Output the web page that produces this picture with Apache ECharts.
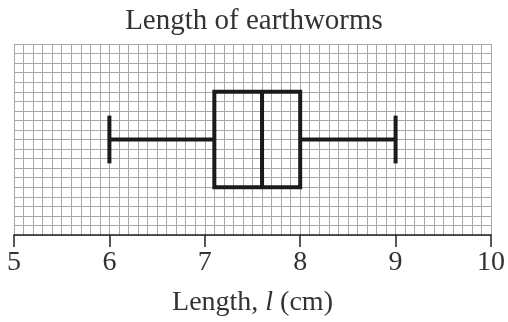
<!DOCTYPE html>
<html>
<head>
<meta charset="utf-8">
<script src="https://cdn.jsdelivr.net/npm/echarts@6/dist/echarts.min.js"></script>
<style>
  html, body { margin: 0; padding: 0; background: #fff; }
  #chart { width: 508px; height: 322px; }
</style>
</head>
<body>
<div id="chart"></div>
<script>
// five-number summary: min, Q1, median, Q3, max
const summaryLabels = ['min', 'Q1', 'median', 'Q3', 'max']
const summaryValues = [6, 7.1, 7.6, 8, 9]
const xTicks = [5, 6, 7, 8, 9, 10]

const chart = echarts.init(document.getElementById('chart'))
const serif = 'Liberation Serif'
const gridColor = '#a8a8a8'
const textColor = '#333'

function renderBox(params, api) {
  const lo = api.value(0), q1 = api.value(1), med = api.value(2), q3 = api.value(3), hi = api.value(4)
  const mid = 10, half = 5, cap = 2.5
  const p = (x, y) => api.coord([x, y])
  const style = { stroke: '#1a1a1a', lineWidth: 4, fill: null }
  const line = (a, b) => ({ type: 'line', shape: { x1: a[0], y1: a[1], x2: b[0], y2: b[1] }, style })
  const tl = p(q1, mid + half), br = p(q3, mid - half)
  return {
    type: 'group',
    children: [
      line(p(lo, mid), p(q1, mid)),
      line(p(q3, mid), p(hi, mid)),
      line(p(lo, mid - cap), p(lo, mid + cap)),
      line(p(hi, mid - cap), p(hi, mid + cap)),
      { type: 'rect', shape: { x: tl[0], y: tl[1], width: br[0] - tl[0], height: br[1] - tl[1] }, style },
      line(p(med, mid - half), p(med, mid + half)),
    ],
  }
}

chart.setOption({
  animation: false,
  title: {
    text: 'Length of earthworms',
    left: 'center',
    top: 2,
    textStyle: { fontFamily: serif, fontSize: 29, fontWeight: 'normal', color: textColor },
  },
  grid: { left: 14, right: 15, top: 44, bottom: 87 },
  xAxis: {
    type: 'value',
    min: xTicks[0],
    max: xTicks[xTicks.length - 1],
    interval: 1,
    name: 'Length, {i|l} (cm)',
    nameLocation: 'middle',
    nameGap: 54,
    nameTextStyle: {
      fontFamily: serif, fontSize: 28, color: textColor,
      rich: { i: { fontFamily: serif, fontSize: 28, fontStyle: 'italic', color: textColor } },
    },
    axisLine: { lineStyle: { color: '#222', width: 1.5 } },
    axisTick: { length: 12, lineStyle: { color: '#222', width: 1.5 } },
    axisLabel: { fontFamily: serif, fontSize: 28, color: textColor, margin: 14 },
    splitLine: { lineStyle: { color: gridColor, width: 1 } },
    minorTick: { show: false, splitNumber: 10 },
    minorSplitLine: { show: true, lineStyle: { color: gridColor, width: 1 } },
  },
  yAxis: {
    type: 'value',
    min: 0,
    max: 20,
    interval: 1,
    axisLine: { show: false },
    axisTick: { show: false },
    axisLabel: { show: false },
    splitLine: { lineStyle: { color: gridColor, width: 1 } },
  },
  series: [
    {
      type: 'custom',
      name: summaryLabels.join(','),
      renderItem: renderBox,
      encode: { x: [0, 1, 2, 3, 4] },
      data: [summaryValues],
      clip: false,
    },
  ],
})
</script>
</body>
</html>
